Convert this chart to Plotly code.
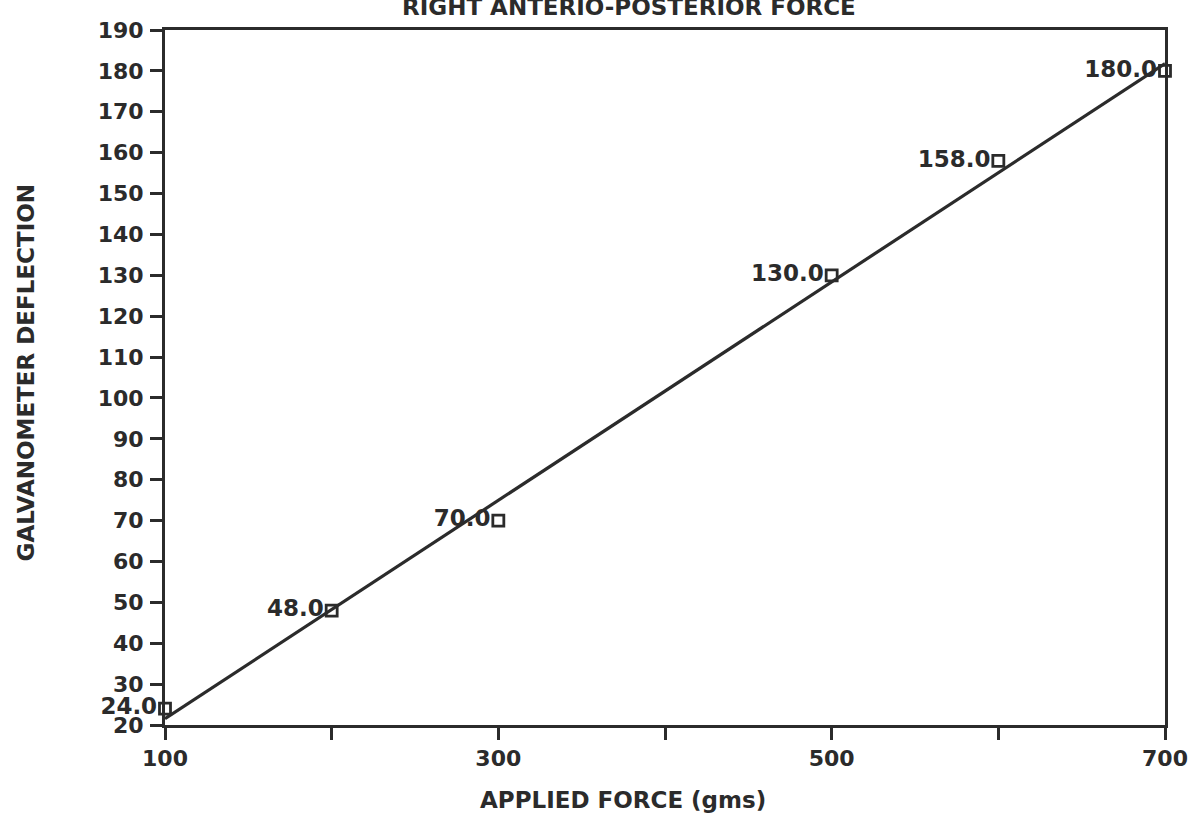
import numpy as np
import plotly.graph_objects as go

# Calibration readings
applied_force = [100, 200, 300, 500, 600, 700]          # gms
deflection = [24.0, 48.0, 70.0, 130.0, 158.0, 180.0]    # galvanometer divisions
point_labels = ["24.0", "48.0", "70.0", "130.0", "158.0", "180.0"]

x_tick_values = [100, 200, 300, 400, 500, 600, 700]
x_tick_labels = ["100", "", "300", "", "500", "", "700"]
y_tick_values = list(range(20, 191, 10))

# Least-squares calibration line through the readings
slope, intercept = np.polyfit(applied_force, deflection, 1)
fit_x = [applied_force[0], applied_force[-1]]
fit_y = [slope * v + intercept for v in fit_x]

INK = "#2b2b2b"
FONT = "DejaVu Sans"

fig = go.Figure()

fig.add_trace(go.Scatter(
    x=fit_x, y=fit_y, mode="lines",
    line=dict(color=INK, width=3.2),
    hoverinfo="skip", showlegend=False,
))

fig.add_trace(go.Scatter(
    x=applied_force, y=deflection, mode="markers+text",
    marker=dict(symbol="square-open", size=11, color=INK, line=dict(width=2.8, color=INK)),
    text=point_labels, textposition="middle left",
    textfont=dict(family=FONT, size=23, color=INK, weight="bold"),
    cliponaxis=False, showlegend=False,
))

axis_common = dict(
    showline=True, linecolor=INK, linewidth=3, mirror=True,
    ticks="outside", tickcolor=INK, tickwidth=2.5, ticklen=12,
    showgrid=False, zeroline=False,
    tickfont=dict(family=FONT, size=22, color=INK, weight="bold"),
)

fig.update_xaxes(
    range=[100, 700], tickmode="array",
    tickvals=x_tick_values, ticktext=x_tick_labels,
    **axis_common,
)
fig.update_yaxes(
    range=[20, 190], tickmode="array",
    tickvals=y_tick_values, ticktext=[str(v) for v in y_tick_values],
    ticklabelstandoff=2,
    **axis_common,
)

title_font = dict(family=FONT, size=23, color=INK, weight="bold")

# Axis titles and chart heading
fig.add_annotation(
    text="APPLIED FORCE (gms)",
    xref="paper", yref="paper", x=0.5, y=0.0, xshift=-42, yshift=-75,
    showarrow=False, xanchor="center", yanchor="middle",
    font=title_font,
)
fig.add_annotation(
    text="GALVANOMETER DEFLECTION", textangle=-90,
    xref="paper", yref="paper", x=0.0, y=0.5, xshift=-140, yshift=5,
    showarrow=False, xanchor="center", yanchor="middle",
    font=title_font,
)
fig.add_annotation(
    text="RIGHT ANTERIO-POSTERIOR FORCE",
    xref="paper", yref="paper", x=0.5, y=1.0, xshift=-36, yshift=23,
    showarrow=False, xanchor="center", yanchor="middle",
    font=title_font,
)

fig.update_layout(
    width=1200, height=820,
    margin=dict(l=165, r=31, t=30, b=95),
    paper_bgcolor="white", plot_bgcolor="white",
)

fig.write_html("out.html")
